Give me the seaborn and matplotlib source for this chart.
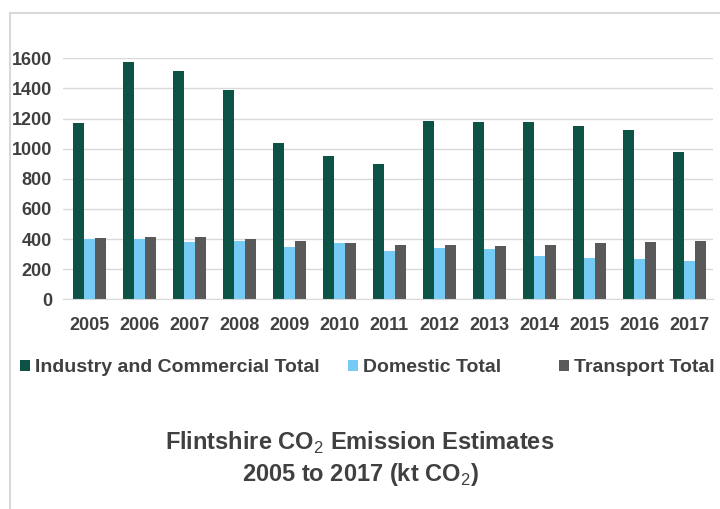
import pandas as pd
import seaborn as sns
import matplotlib.pyplot as plt
from matplotlib.lines import Line2D

# Data (kt CO2)
years = ["2005", "2006", "2007", "2008", "2009", "2010", "2011",
         "2012", "2013", "2014", "2015", "2016", "2017"]
industry = [1172, 1573, 1514, 1390, 1036, 952, 900, 1186, 1177, 1177, 1151, 1122, 980]
domestic = [398, 400, 380, 385, 350, 376, 323, 341, 336, 285, 276, 265, 256]
transport = [405, 412, 416, 400, 387, 376, 363, 358, 354, 358, 372, 383, 389]

series_names = ["Industry and Commercial Total", "Domestic Total", "Transport Total"]
colours = ["#0D5345", "#76CBF4", "#595959"]

df = pd.DataFrame({"year": years, series_names[0]: industry,
                   series_names[1]: domestic, series_names[2]: transport})
long_df = df.melt(id_vars="year", var_name="sector", value_name="kt")

sns.set_style("white")
plt.rcParams["font.family"] = ["Liberation Sans", "DejaVu Sans"]
plt.rcParams["mathtext.fontset"] = "custom"
plt.rcParams["mathtext.rm"] = "Liberation Sans"
plt.rcParams["mathtext.bf"] = "Liberation Sans:bold"

text_col = "#404040"

fig = plt.figure(figsize=(7.2, 5.09), dpi=100)
ax = fig.add_axes([63 / 720, 1 - 299.3 / 509, 650 / 720, 241 / 509])

sns.barplot(data=long_df, x="year", y="kt", hue="sector", palette=colours,
            width=0.66, saturation=1, errorbar=None, linewidth=0, ax=ax)

ax.set_ylim(0, 1600)
ax.set_xlim(-0.52, 12.48)
ax.set_yticks(range(0, 1601, 200))
ax.yaxis.grid(True, color="#D9D9D9", linewidth=1)
ax.set_axisbelow(True)
for s in ["top", "right", "left"]:
    ax.spines[s].set_visible(False)
ax.spines["bottom"].set_color("#D9D9D9")
ax.set_xlabel("")
ax.set_ylabel("")
ax.tick_params(axis="x", length=0, pad=13, labelsize=13, labelcolor=text_col)
ax.tick_params(axis="y", length=0, pad=8, labelsize=13, labelcolor=text_col)
for lbl in ax.get_xticklabels() + ax.get_yticklabels():
    lbl.set_fontweight("bold")

# Excel-style legend: each entry placed on its own
handles, labels = ax.get_legend_handles_labels()
ax.legend_.remove()
legend_x = [20 / 720, 348 / 720, 559 / 720]
for h, l, x in zip(handles, labels, legend_x):
    leg = fig.legend([h], [l], loc="center left", bbox_to_anchor=(x, 1 - 368 / 509),
                     frameon=False, handlelength=0.5, handleheight=0.5,
                     handletextpad=0.25, borderaxespad=0, borderpad=0,
                     prop={"size": 14, "weight": "bold"})
    for t in leg.get_texts():
        t.set_color(text_col)

fig.text(0.5, 1 - 443 / 509, r"Flintshire CO$_2$ Emission Estimates", ha="center", va="center",
         fontsize=17, fontweight="bold", color=text_col)
fig.text(0.5, 1 - 474 / 509, r"2005 to 2017 (kt CO$_2$)", ha="center", va="center",
         fontsize=17, fontweight="bold", color=text_col)

# light grey frame around the chart
fig.add_artist(Line2D([10 / 720, 10 / 720], [0, 1 - 13 / 509], color="#D9D9D9", linewidth=1.5))
fig.add_artist(Line2D([10 / 720, 1], [1 - 13 / 509, 1 - 13 / 509], color="#D9D9D9", linewidth=1.5))

fig.savefig("out.png", dpi=100)
